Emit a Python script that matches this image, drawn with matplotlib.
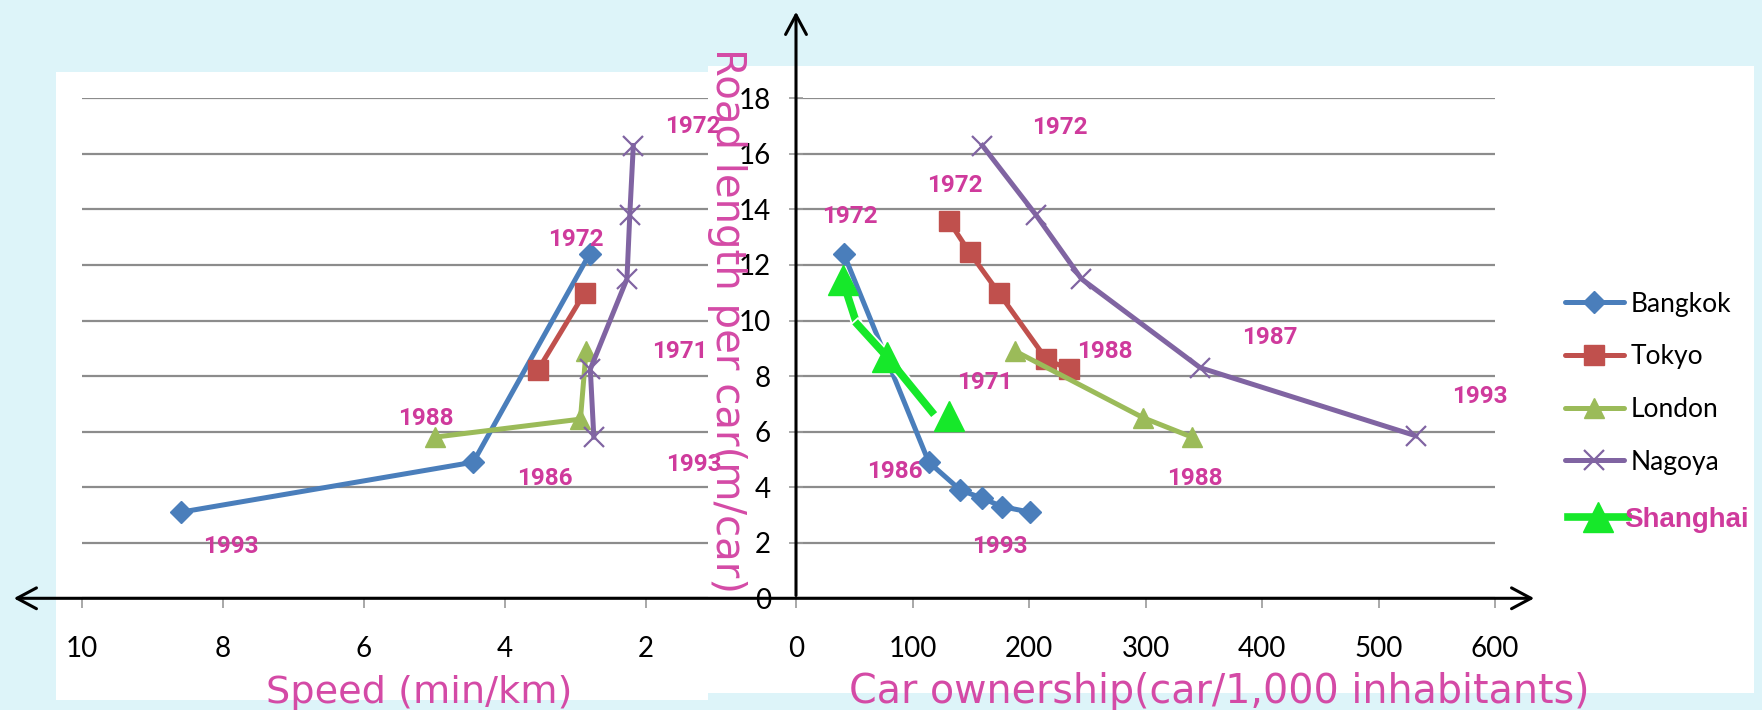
import matplotlib.pyplot as plt
from matplotlib.patches import Rectangle, FancyArrowPatch
from matplotlib.lines import Line2D
import matplotlib.patheffects as pe

# ---- data ----
# left panel: speed (min/km) vs road length per car (m/car)
bkk_speed = [2.8, 4.45, 8.6]
bkk_road_l = [12.4, 4.9, 3.1]
tyo_speed = [2.87, 3.53]
tyo_road_l = [11.0, 8.23]
ldn_speed = [2.85, 2.93, 5.0]
ldn_road_l = [8.9, 6.45, 5.8]
ngy_speed = [2.18, 2.23, 2.27, 2.79, 2.74]
ngy_road_l = [16.3, 13.8, 11.5, 8.25, 5.8]

# right panel: car ownership (car/1,000 inhabitants) vs road length
bkk_cars = [41, 114, 141, 160, 177, 201]
bkk_road_r = [12.4, 4.9, 3.9, 3.6, 3.3, 3.1]
tyo_cars = [131, 149, 174, 215, 234]
tyo_road_r = [13.6, 12.45, 11.0, 8.6, 8.25]
ldn_cars = [188, 298, 340]
ldn_road_r = [8.9, 6.5, 5.8]
ngy_cars = [160, 206, 245, 347, 532]
ngy_road_r = [16.3, 13.8, 11.5, 8.3, 5.85]
# shanghai is hand drawn: two line pieces and three markers
sha_line1_x = [40, 52]
sha_line1_y = [11.45, 9.9]
sha_line2_x = [53, 78, 116.5]
sha_line2_y = [9.85, 8.7, 6.72]
sha_mark_x = [40, 78, 131]
sha_mark_y = [11.45, 8.7, 6.55]

left_labels = [(1.33, 16.97, '1972'), (3.0, 12.93, '1972'), (1.52, 8.9, '1971'),
               (5.13, 6.49, '1988'), (3.43, 4.33, '1986'), (1.32, 4.83, '1993'),
               (7.89, 1.85, '1993')]
right_labels = [(226.6, 16.95, '1972'), (136.5, 14.85, '1972'), (46.4, 13.76, '1972'),
                (406.9, 9.39, '1987'), (265, 8.9, '1988'), (162, 7.78, '1971'),
                (587, 7.25, '1993'), (85, 4.55, '1986'), (342.5, 4.33, '1988'),
                (175, 1.85, '1993')]

speed_ticks = [10, 8, 6, 4, 2]
car_ticks = [0, 100, 200, 300, 400, 500, 600]
road_ticks = list(range(0, 19, 2))

c_bkk = '#4A7EBB'
c_tyo = '#C0504D'
c_ldn = '#9BBB59'
c_ngy = '#8064A2'
c_sha = '#16E82A'
magenta = '#CF3A9C'
grid_c = '#8C8C8C'

W, H = 1762, 710
fig = plt.figure(figsize=(W / 100, H / 100), dpi=100)
fig.patch.set_facecolor('#DDF4F9')


def fx(px):
    return px / W


def fy(py):
    return 1 - py / H


# white chart backgrounds
fig.add_artist(Rectangle((fx(56), fy(700)), fx(708) - fx(56), fy(72) - fy(700),
                         transform=fig.transFigure, facecolor='white', edgecolor='none', zorder=0))
fig.add_artist(Rectangle((fx(708), fy(693)), fx(1754) - fx(708), fy(66) - fy(693),
                         transform=fig.transFigure, facecolor='white', edgecolor='none', zorder=0))

y0, y18 = 598.3, 98.3
axL = fig.add_axes([fx(82), fy(y0), fx(708) - fx(82), fy(y18) - fy(y0)])
axR = fig.add_axes([fx(796), fy(y0), fx(1495) - fx(796), fy(y18) - fy(y0)])

for ax in (axL, axR):
    ax.set_facecolor('none')
    for s in ax.spines.values():
        s.set_visible(False)
    ax.set_ylim(0, 18)
    ax.set_yticks(road_ticks)
    ax.yaxis.grid(True, color=grid_c, lw=1.6)
    ax.set_axisbelow(True)
    ax.tick_params(axis='x', direction='out', length=7, width=1.2, color='#999999', pad=20)

axL.set_xlim(10, 10 - 626 / 70.5)
axL.set_xticks(speed_ticks)
axL.set_xticklabels([str(v) for v in speed_ticks], fontfamily='Lato', fontsize=20)
axL.tick_params(axis='y', length=0, labelleft=False)

axR.set_xlim(0, 600)
axR.set_xticks(car_ticks)
axR.set_xticklabels([str(v) for v in car_ticks], fontfamily='Lato', fontsize=20)
axR.set_yticklabels([str(v) for v in road_ticks], fontfamily='Lato', fontsize=20)
axR.tick_params(axis='y', direction='inout', length=10, width=1.2, color='#999999', pad=13)

lw = 3.6
# left panel series
axL.plot(bkk_speed, bkk_road_l, color=c_bkk, lw=lw, marker='D', ms=11, clip_on=False)
axL.plot(tyo_speed, tyo_road_l, color=c_tyo, lw=lw, marker='s', ms=15, clip_on=False)
axL.plot(ldn_speed, ldn_road_l, color=c_ldn, lw=lw, marker='^', ms=15, clip_on=False)
axL.plot(ngy_speed, ngy_road_l, color=c_ngy, lw=lw, marker='x', ms=14, mew=1.6, clip_on=False)

# right panel series
axR.plot(bkk_cars, bkk_road_r, color=c_bkk, lw=lw, marker='D', ms=11)
axR.plot(tyo_cars, tyo_road_r, color=c_tyo, lw=lw, marker='s', ms=15)
axR.plot(ldn_cars, ldn_road_r, color=c_ldn, lw=lw, marker='^', ms=15)
axR.plot(ngy_cars, ngy_road_r, color=c_ngy, lw=lw, marker='x', ms=14, mew=1.6)
outline = [pe.Stroke(linewidth=8, foreground='white'), pe.Normal()]
axR.plot(sha_line1_x, sha_line1_y, color=c_sha, lw=5.5, path_effects=outline, zorder=4)
axR.plot(sha_line2_x, sha_line2_y, color=c_sha, lw=5.5, path_effects=outline, zorder=4)
axR.plot(sha_mark_x, sha_mark_y, ls='none', marker='^', ms=21, color=c_sha, zorder=5)

for x, y, s in left_labels:
    axL.text(x, y, s, color=magenta, fontsize=17.5, fontweight='bold', fontfamily='Roboto',
             ha='center', va='center', clip_on=False, zorder=6)
for x, y, s in right_labels:
    axR.text(x, y, s, color=magenta, fontsize=17.5, fontweight='bold', fontfamily='Roboto',
             ha='center', va='center', clip_on=False, zorder=6)

# axis arrows
fig.add_artist(FancyArrowPatch((fx(11), fy(y0)), (fx(1537), fy(y0)), transform=fig.transFigure,
                               arrowstyle='<->,head_length=1.4,head_width=0.75', mutation_scale=10,
                               color='black', lw=2.2, zorder=7))
fig.add_artist(FancyArrowPatch((fx(796), fy(y0)), (fx(796), fy(9)), transform=fig.transFigure,
                               arrowstyle='->,head_length=1.4,head_width=0.75', mutation_scale=10,
                               color='black', lw=2.2, zorder=7))

title_c = '#D44AA6'
fig.text(fx(419), fy(703), 'Speed (min/km)', color=title_c, fontsize=27.5,
         ha='center', va='baseline')
fig.text(fx(1219), fy(703), 'Car ownership(car/1,000 inhabitants)', color=title_c, fontsize=28.5,
         ha='center', va='baseline')
fig.text(fx(727), fy(321), 'Road length per car(m/car)', color=title_c, fontsize=29,
         rotation=270, ha='center', va='center', zorder=8)

# legend: four excel series, then the hand drawn shanghai entry
handles = [
    Line2D([], [], color=c_bkk, lw=lw, marker='D', ms=11, solid_capstyle='round'),
    Line2D([], [], color=c_tyo, lw=lw, marker='s', ms=15, solid_capstyle='round'),
    Line2D([], [], color=c_ldn, lw=lw, marker='^', ms=15, solid_capstyle='round'),
    Line2D([], [], color=c_ngy, lw=lw, marker='x', ms=14, mew=1.6, solid_capstyle='round'),
]
names = ['Bangkok', 'Tokyo', 'London', 'Nagoya']
fig.legend(handles, names, loc='upper left', bbox_to_anchor=(fx(1554), fy(281)),
           frameon=False, prop={'family': 'Lato', 'size': 19}, handlelength=2.25,
           handletextpad=0.25, labelspacing=1.05, numpoints=1, borderaxespad=0)
sha_handle = Line2D([], [], color=c_sha, lw=5.5, marker='^', ms=21)
leg2 = fig.legend([sha_handle], ['Shanghai'], loc='center left',
                  bbox_to_anchor=(fx(1557), fy(520)), frameon=False,
                  prop={'family': 'Liberation Sans', 'weight': 'bold', 'size': 20},
                  handlelength=2.15, handletextpad=-0.15, numpoints=1, borderaxespad=0)
leg2.get_texts()[0].set_color(magenta)

fig.savefig('out.png', dpi=100, facecolor=fig.get_facecolor())
